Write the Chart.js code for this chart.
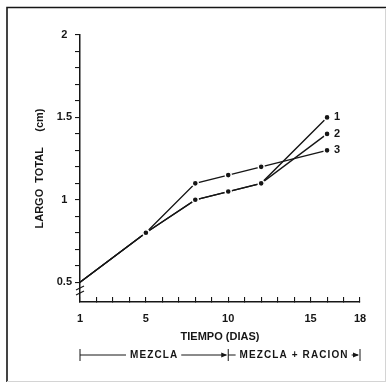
<!DOCTYPE html>
<html>
<head>
<meta charset="utf-8">
<script src="https://cdn.jsdelivr.net/npm/chart.js@4/dist/chart.umd.min.js"></script>
<style>
  html,body{margin:0;padding:0;background:#fff}
  #wrap{width:386px;height:385px;position:relative}
</style>
</head>
<body>
<div id="wrap"><canvas id="chart"></canvas></div>
<script>
/* -------- data -------- */
const days    = [1, 5, 8, 10, 12, 16];
const serie1  = [0.5, 0.8, 1.0, 1.05, 1.1, 1.5];
const serie2  = [0.5, 0.8, 1.0, 1.05, 1.1, 1.4];
const serie3  = [0.5, 0.8, 1.1, 1.15, 1.2, 1.3];
const serieNames  = ["1", "2", "3"];
const xTickLabels = [1, 5, 10, 15, 18];
const yTickLabels = [0.5, 1, 1.5, 2];
const phaseNames  = ["MEZCLA", "MEZCLA + RACION"];
const phaseBounds = [1, 10, 18];

const INK = "#161616";
const FONT = '"Liberation Sans", Arial, sans-serif';
Chart.defaults.font.family = FONT;
Chart.defaults.color = INK;

// every day on x, every 0.1 on y
const xTicks = [];
for(let d = 1; d <= 18; d++) xTicks.push(d);
const yTicks = [];
for(let i = 0; i <= 15; i++) yTicks.push(Math.round((0.5 + i*0.1)*10)/10);

function toPoints(vals){
  return days.map((d,i)=>({x:d, y:vals[i]}));
}

function lineSet(vals, name){
  return {
    label:name,
    data:toPoints(vals),
    borderColor:INK,
    borderWidth:1.4,
    pointRadius:(c)=> c.dataIndex === 0 ? 0 : 3,
    pointBackgroundColor:INK,
    pointBorderColor:"#fff",
    pointBorderWidth:1.4,
    tension:0,
    clip:false
  };
}

/* -------- decorations: frame, axis break, end labels, phase bar -------- */
const extras = {
  id:"extras",
  afterDatasetsDraw(chart){
    const ctx = chart.ctx;
    ctx.save();
    ctx.fillStyle = INK;
    ctx.font = "bold 11px " + FONT;
    ctx.textBaseline = "middle";
    chart.data.datasets.forEach((ds,i)=>{
      const meta = chart.getDatasetMeta(i);
      const last = meta.data[meta.data.length-1];
      ctx.fillText(serieNames[i], last.x + 7, last.y);
    });
    ctx.restore();
  },
  afterDraw(chart){
    const ctx = chart.ctx;
    const xs = chart.scales.x, ys = chart.scales.y;
    ctx.save();

    // frame round the figure
    ctx.strokeStyle = INK;
    ctx.lineWidth = 1.6;
    ctx.beginPath();
    ctx.moveTo(7, 382); ctx.lineTo(7, 7.5); ctx.lineTo(386, 7.5);
    ctx.stroke();
    ctx.strokeStyle = "#d4d4d4";
    ctx.lineWidth = 1;
    ctx.beginPath();
    ctx.moveTo(385.5, 8); ctx.lineTo(385.5, 382);
    ctx.moveTo(7, 381.5); ctx.lineTo(386, 381.5);
    ctx.stroke();

    // axis break on y
    const ax = xs.getPixelForValue(1);
    ctx.strokeStyle = INK;
    ctx.lineWidth = 1.2;
    [0.465, 0.435].forEach(v=>{
      const y = ys.getPixelForValue(v);
      ctx.beginPath();
      ctx.moveTo(ax-4, y+2); ctx.lineTo(ax+4, y-2);
      ctx.stroke();
    });

    // phase bar under the x axis
    const by = 355;
    ctx.font = "bold 10px " + FONT;
    ctx.letterSpacing = "1.1px";
    ctx.textBaseline = "middle";
    ctx.textAlign = "left";
    ctx.lineWidth = 1;
    phaseBounds.forEach(b=>{
      const x = xs.getPixelForValue(b);
      ctx.beginPath(); ctx.moveTo(x, by-6); ctx.lineTo(x, by+6); ctx.stroke();
    });
    phaseNames.forEach((name,i)=>{
      const x1 = xs.getPixelForValue(phaseBounds[i]);
      const x2 = xs.getPixelForValue(phaseBounds[i+1]);
      const w = ctx.measureText(name).width;
      const tx = (x1 + x2)/2 - w/2;
      ctx.fillText(name, tx, by);
      ctx.beginPath();
      ctx.moveTo(x1, by); ctx.lineTo(tx - 4, by);
      ctx.moveTo(tx + w + 3, by); ctx.lineTo(x2 - 2, by);
      ctx.stroke();
      ctx.beginPath();
      ctx.moveTo(x2 - 1, by); ctx.lineTo(x2 - 7, by - 2.5); ctx.lineTo(x2 - 7, by + 2.5);
      ctx.closePath(); ctx.fill();
    });
    ctx.restore();
  }
};

new Chart(document.getElementById("chart"),{
  type:"line",
  data:{
    datasets:[
      lineSet(serie1, serieNames[0]),
      lineSet(serie2, serieNames[1]),
      lineSet(serie3, serieNames[2])
    ]
  },
  options:{
    responsive:true,
    maintainAspectRatio:false,
    animation:false,
    layout:{padding:{top:35, right:26, left:0, bottom:0}},
    plugins:{legend:{display:false}, tooltip:{enabled:false}},
    scales:{
      x:{
        type:"linear", min:1, max:18,
        afterBuildTicks:(s)=>{ s.ticks = xTicks.map(v=>({value:v})); },
        afterFit:(s)=>{ s.height = 83; },
        ticks:{
          autoSkip:false, maxRotation:0, padding:15,
          font:{size:11, weight:"bold"},
          callback:(v)=> xTickLabels.includes(v) ? String(v) : ""
        },
        grid:{drawOnChartArea:false, drawTicks:true, tickLength:-5, color:INK, lineWidth:1.1},
        border:{display:true, color:INK, width:1.5},
        title:{display:true, text:"TIEMPO (DIAS)", font:{size:11, weight:"bold"}, padding:{top:0, bottom:41}}
      },
      y:{
        type:"linear", min:0.38, max:2,
        afterBuildTicks:(s)=>{ s.ticks = yTicks.map(v=>({value:v})); },
        afterFit:(s)=>{ s.width = 80; },
        ticks:{
          autoSkip:false, padding:3, crossAlign:"center",
          font:{size:11, weight:"bold"},
          callback:(v)=>{
            const r = Math.round(v*10)/10;
            return yTickLabels.includes(r) ? String(r) : "";
          }
        },
        grid:{drawOnChartArea:false, drawTicks:true, tickLength:5, color:INK, lineWidth:1.1},
        border:{display:true, color:INK, width:1.5},
        title:{display:true, text:"LARGO  TOTAL     (cm)", font:{size:11, weight:"bold"}, padding:{top:33, bottom:0}}
      }
    }
  },
  plugins:[extras]
});
</script>
</body>
</html>
